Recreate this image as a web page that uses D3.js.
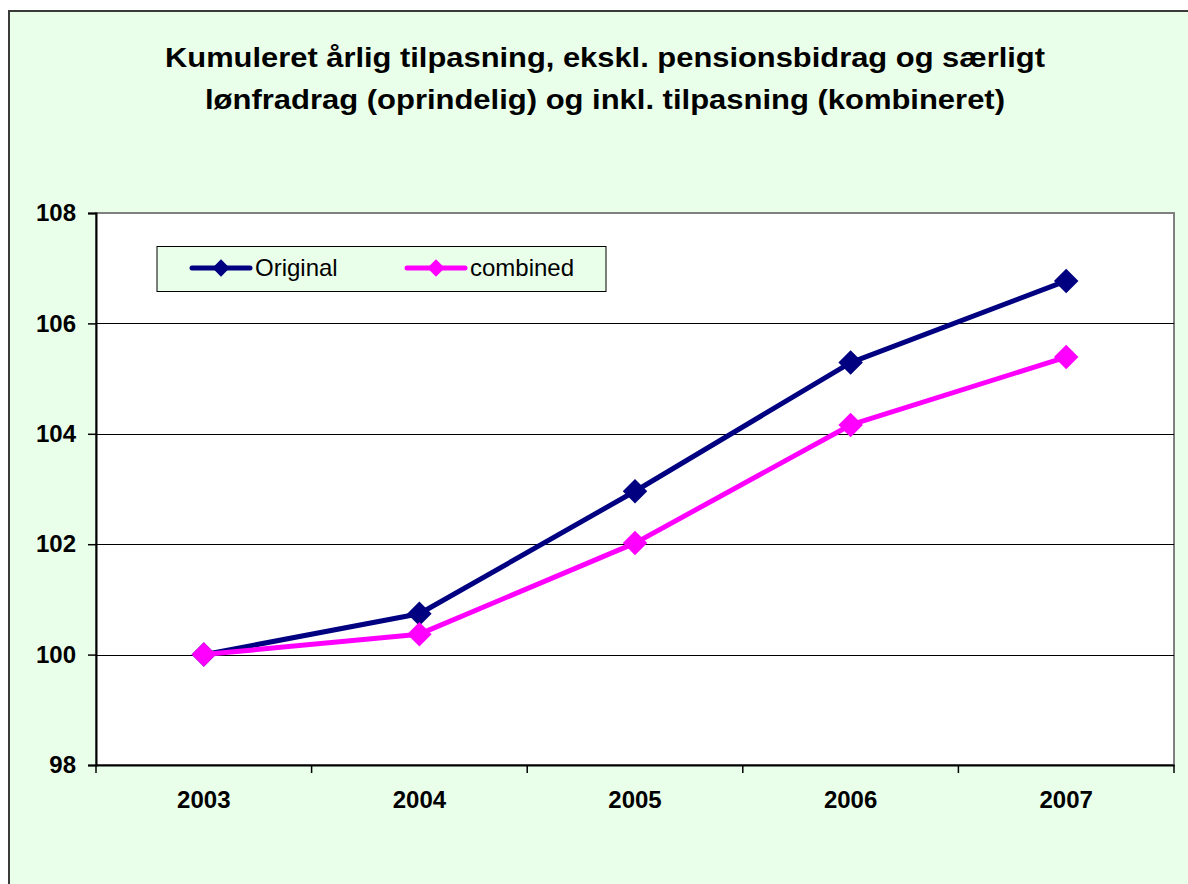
<!DOCTYPE html>
<html>
<head>
<meta charset="utf-8">
<script src="https://cdn.jsdelivr.net/npm/d3@7"></script>
<style>
  html, body { margin: 0; padding: 0; background: #ffffff; }
  svg { display: block; }
</style>
</head>
<body>
<svg id="chart" width="1188" height="884"></svg>
<script>
const titleLines = [
  "Kumuleret årlig tilpasning, ekskl. pensionsbidrag og særligt",
  "lønfradrag (oprindelig) og inkl. tilpasning (kombineret)"
];
const years = ["2003", "2004", "2005", "2006", "2007"];
const originalValues = [100, 100.74, 102.96, 105.29, 106.77];
const combinedValues = [100, 100.37, 102.02, 104.16, 105.39];
const yTicks = [98, 100, 102, 104, 106, 108];
const seriesNames = ["Original", "combined"];
const seriesColors = ["#000080", "#FF00FF"];

const svg = d3.select("#chart");
const bg = "#EAFFEA";
const font = "Liberation Sans, Arial, sans-serif";

svg.append("rect").attr("x", 0).attr("y", 0).attr("width", 1188).attr("height", 884).attr("fill", "#ffffff");
svg.append("rect").attr("x", 9).attr("y", 11).attr("width", 1200).attr("height", 900)
  .attr("fill", bg).attr("stroke", "#3a3a3a").attr("stroke-width", 2);

// Title
const titleW = [880, 800];
titleLines.forEach((t, i) => {
  const el = svg.append("text")
    .attr("x", 605).attr("y", 67 + i * 42)
    .attr("text-anchor", "middle")
    .attr("font-family", font).attr("font-weight", "bold").attr("font-size", 28)
    .attr("fill", "#000").text(t);
  const len = el.node().getComputedTextLength();
  if (Math.abs(len - titleW[i]) > 4) {
    el.attr("textLength", titleW[i]).attr("lengthAdjust", "spacingAndGlyphs");
  }
});

const L = 96, R = 1174, T = 213, B = 765;
const x = d3.scaleBand().domain(years).range([L, R]);
const y = d3.scaleLinear().domain([98, 108]).range([B, T]);

svg.append("rect").attr("x", L).attr("y", T).attr("width", R - L).attr("height", B - T)
  .attr("fill", "#ffffff").attr("stroke", "#808080").attr("stroke-width", 2);

// gridlines
svg.append("g").selectAll("line").data(yTicks.filter(d => d > 98 && d < 108)).join("line")
  .attr("x1", L).attr("x2", R)
  .attr("y1", d => Math.round(y(d)) + 0.5).attr("y2", d => Math.round(y(d)) + 0.5)
  .attr("stroke", "#000").attr("stroke-width", 1);

// Y axis
const yAxis = svg.append("g").attr("transform", `translate(${L},0)`)
  .call(d3.axisLeft(y).tickValues(yTicks).tickSize(8).tickPadding(12).tickFormat(d3.format("d")));
yAxis.select(".domain").attr("stroke", "#000").attr("stroke-width", 2);
yAxis.selectAll(".tick line").attr("stroke", "#000").attr("stroke-width", 1.5);
yAxis.selectAll(".tick text").attr("font-family", font).attr("font-weight", "bold")
  .attr("font-size", 24).attr("fill", "#000");

// X axis
const xAxis = svg.append("g").attr("transform", `translate(0,${B})`)
  .call(d3.axisBottom(x).tickSize(0).tickPadding(26));
xAxis.select(".domain").attr("stroke", "#000").attr("stroke-width", 2);
xAxis.selectAll(".tick text").attr("font-family", font).attr("font-weight", "bold")
  .attr("font-size", 24).attr("fill", "#000");
// category boundary ticks
const bounds = years.map(d => x(d)).concat([R]);
svg.append("g").selectAll("line").data(bounds).join("line")
  .attr("x1", d => d).attr("x2", d => d).attr("y1", B).attr("y2", B + 8)
  .attr("stroke", "#000").attr("stroke-width", 1.5);

// Lines
const series = [originalValues, combinedValues];
const line = d3.line().x((d, i) => x(years[i]) + x.bandwidth() / 2).y(d => y(d));
series.forEach((vals, si) => {
  svg.append("path").datum(vals).attr("d", line)
    .attr("fill", "none").attr("stroke", seriesColors[si]).attr("stroke-width", 5)
    .attr("stroke-linejoin", "round");
  svg.append("g").selectAll("path").data(vals).join("path")
    .attr("d", d3.symbol().type(d3.symbolSquare).size(300))
    .attr("transform", (d, i) => `translate(${x(years[i]) + x.bandwidth() / 2},${y(d)}) rotate(45)`)
    .attr("fill", seriesColors[si]);
});

// Legend
svg.append("rect").attr("x", 157).attr("y", 246.5).attr("width", 449).attr("height", 45)
  .attr("fill", bg).attr("stroke", "#000").attr("stroke-width", 1);
const legX = [192, 407];
seriesNames.forEach((n, i) => {
  const ly = 268;
  svg.append("line").attr("x1", legX[i]).attr("x2", legX[i] + 58).attr("y1", ly).attr("y2", ly)
    .attr("stroke", seriesColors[i]).attr("stroke-width", 5).attr("stroke-linecap", "round");
  svg.append("path").attr("d", d3.symbol().type(d3.symbolSquare).size(150))
    .attr("transform", `translate(${legX[i] + 29},${ly}) rotate(45)`)
    .attr("fill", seriesColors[i]);
  svg.append("text").attr("x", legX[i] + 63).attr("y", ly + 8)
    .attr("font-family", font).attr("font-size", 24).attr("fill", "#000").text(n);
});
</script>
</body>
</html>
